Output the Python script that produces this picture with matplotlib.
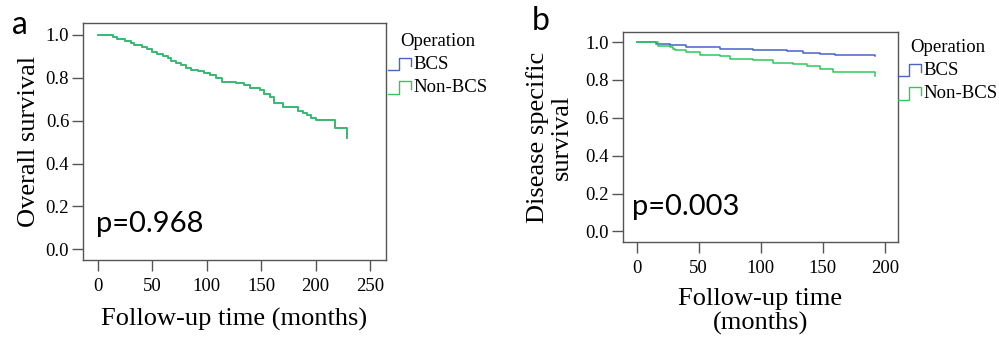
import numpy as np
import matplotlib
matplotlib.use("Agg")
import matplotlib.pyplot as plt
from matplotlib.lines import Line2D
from matplotlib.legend_handler import HandlerBase

# ---------------- data ----------------
groups = ["BCS", "Non-BCS"]
legend_title = "Operation"

# Panel a: overall survival (curves overlap almost completely)
os_time_bcs = [0, 5, 14, 17, 25, 30, 33, 40, 45, 50, 54, 60, 64, 67, 72, 76, 81, 85, 92, 97,
               103, 108, 114, 127, 134, 140, 149, 153, 158, 162, 170, 184, 188, 192, 196, 200, 218, 228.5]
os_surv_bcs = [1.0, 0.997, 0.99, 0.98, 0.972, 0.961, 0.952, 0.943, 0.932, 0.922, 0.912, 0.902, 0.89, 0.877,
               0.868, 0.858, 0.847, 0.837, 0.83, 0.824, 0.812, 0.797, 0.782, 0.775, 0.766, 0.751, 0.742,
               0.725, 0.709, 0.683, 0.664, 0.643, 0.635, 0.626, 0.614, 0.603, 0.565, 0.52]
os_time_non = [0, 5, 14, 17, 25, 30, 33, 40, 45, 50, 54, 60, 64, 67, 72, 76, 81, 85, 92, 97,
               103, 108, 114, 127, 134, 140, 149, 153, 158, 162, 170, 184, 188, 192, 196, 200, 218, 228.5]
os_surv_non = [1.0, 0.997, 0.99, 0.98, 0.972, 0.961, 0.952, 0.943, 0.932, 0.922, 0.912, 0.902, 0.89, 0.877,
               0.868, 0.858, 0.847, 0.837, 0.83, 0.824, 0.812, 0.797, 0.782, 0.775, 0.766, 0.751, 0.742,
               0.725, 0.709, 0.683, 0.664, 0.643, 0.635, 0.626, 0.614, 0.603, 0.565, 0.52]

# Panel b: disease specific survival
dss_time_bcs = [0, 16, 27, 40, 67, 94, 121, 134, 148, 160, 192]
dss_surv_bcs = [1.0, 0.988, 0.983, 0.974, 0.965, 0.956, 0.951, 0.942, 0.939, 0.93, 0.927]
dss_time_non = [0, 17, 27, 29, 31, 40, 51, 67, 75, 94, 110, 126, 137, 148, 158, 192]
dss_surv_non = [1.0, 0.979, 0.974, 0.965, 0.956, 0.946, 0.934, 0.925, 0.913, 0.904, 0.89, 0.886,
                0.872, 0.86, 0.842, 0.821]

yticks = [0.0, 0.2, 0.4, 0.6, 0.8, 1.0]
xticks_a = [0, 50, 100, 150, 200, 250]
xticks_b = [0, 50, 100, 150, 200]
p_a = "p=0.968"
p_b = "p=0.003"

colors = {"BCS": "#4565c8", "Non-BCS": "#2ec95a"}

# ---------------- style ----------------
SERIF = ["Liberation Serif", "DejaVu Serif"]
SANS = ["Lato", "DejaVu Sans"]
plt.rcParams["font.family"] = SERIF
plt.rcParams["axes.edgecolor"] = "#555555"
plt.rcParams["axes.linewidth"] = 1.0


class StepHandler(HandlerBase):
    def create_artists(self, legend, orig_handle, xdescent, ydescent, width, height, fontsize, trans):
        xs = np.array([0.0, 0.47, 0.47, 0.95, 0.95]) * width - xdescent
        ys = np.array([-0.1, -0.1, 0.85, 0.85, 0.25]) * height - ydescent
        ln = Line2D(xs, ys, color=orig_handle.get_color(), lw=1.0)
        ln.set_transform(trans)
        return [ln]


fig = plt.figure(figsize=(9.99, 3.39), dpi=100)

ax_a = fig.add_axes([0.0831, 0.233, 0.3033, 0.699])
ax_b = fig.add_axes([0.6236, 0.286, 0.2753, 0.6194])


def style(ax, xticks, xlim, ylim):
    ax.set_xlim(*xlim)
    ax.set_ylim(*ylim)
    ax.set_xticks(xticks)
    ax.set_xticklabels([str(v) for v in xticks], family=SERIF, fontsize=13.5)
    ax.set_yticks(yticks)
    ax.set_yticklabels([f"{v:.1f}" for v in yticks], family=SERIF, fontsize=13.5)
    ax.tick_params(direction="out", length=8, width=1.0, color="#555555", top=False, right=False)
    ax.tick_params(axis="x", pad=5)
    ax.tick_params(axis="y", pad=2)
    for s in ax.spines.values():
        s.set_color("#555555")


def draw(ax, t_bcs, s_bcs, t_non, s_non):
    h1, = ax.step(t_bcs, s_bcs, where="post", color=colors["BCS"], lw=1.1, label=groups[0])
    h2, = ax.step(t_non, s_non, where="post", color=colors["Non-BCS"], lw=1.1, label=groups[1])
    return [h1, h2]


hs = draw(ax_a, os_time_bcs, os_surv_bcs, os_time_non, os_surv_non)
style(ax_a, xticks_a, (-13.8, 264.7), (-0.05, 1.055))
ax_a.set_ylabel("Overall survival", fontsize=19, labelpad=4, family=SERIF)
ax_a.set_xlabel("Follow-up time (months)", fontsize=19, labelpad=9, family=SERIF)
ax_a.text(-1.5, 0.12, p_a, fontsize=21, family=SANS, color="black", va="center", ha="left")

hs_b = draw(ax_b, dss_time_bcs, dss_surv_bcs, dss_time_non, dss_surv_non)
style(ax_b, xticks_b, (-11.0, 210.7), (-0.056, 1.053))
ax_b.set_ylabel("Disease specific\nsurvival", fontsize=19, labelpad=9, linespacing=1.1, family=SERIF)
ax_b.set_xlabel("Follow-up time\n(months)", fontsize=19, labelpad=8, linespacing=1.1, family=SERIF)
ax_b.text(-3.5, 0.13, p_b, fontsize=21, family=SANS, color="black", va="center", ha="left")

for ax, hh, anchor in [(ax_a, hs, (388 / 999, 1 - 33 / 339)), (ax_b, hs_b, (898 / 999, 1 - 39 / 339))]:
    leg = fig.legend(hh, groups, title=legend_title, loc="upper left", bbox_to_anchor=anchor,
                     bbox_transform=fig.transFigure, frameon=False,
                     prop={"family": SERIF, "size": 13.5},
                     title_fontproperties={"family": SERIF, "size": 13.5},
                     handler_map={Line2D: StepHandler()}, handlelength=1.3, handletextpad=0.05,
                     labelspacing=0.32, borderpad=0, borderaxespad=0)

fig.text(20 / 999, 1 - 25 / 339, "a", fontsize=23, family=SANS, ha="center", va="center")
fig.text(541 / 999, 1 - 21 / 339, "b", fontsize=23, family=SANS, ha="center", va="center")

fig.savefig("out.png", dpi=100)
